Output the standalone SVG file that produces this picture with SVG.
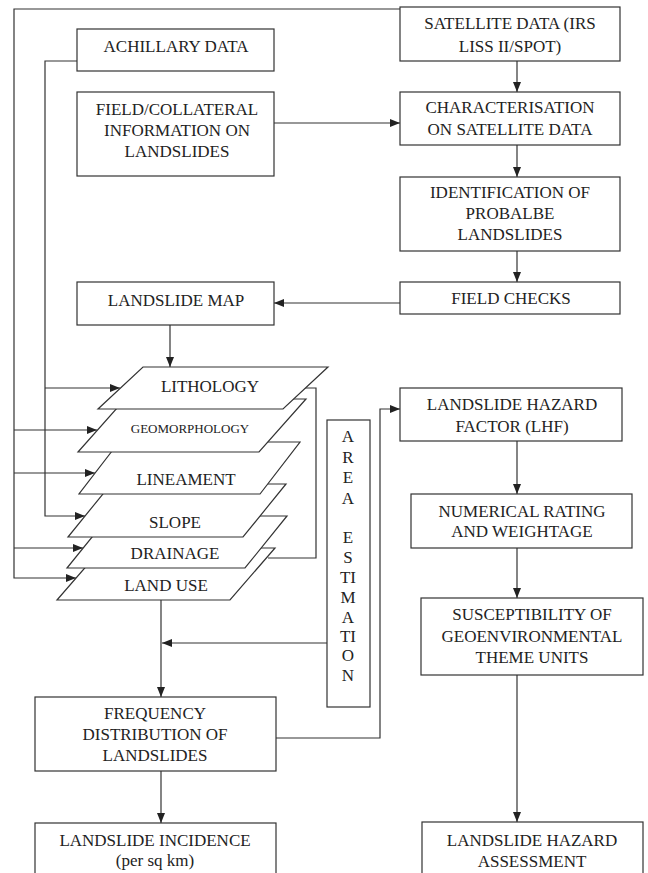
<svg xmlns="http://www.w3.org/2000/svg" width="648" height="873" viewBox="0 0 648 873">
<style>
.box{fill:#fff;stroke:#333;stroke-width:1.2}
.lay{fill:#fff;stroke:#333;stroke-width:1.2;stroke-linejoin:miter}
.ln{fill:none;stroke:#333;stroke-width:1.2}
.ar{marker-end:url(#ah)}
text{font-family:"Liberation Serif","Times New Roman",serif;font-size:17px;fill:#222;text-anchor:middle}
.sm{font-size:13px}
</style>
<defs>
<marker id="ah" viewBox="0 0 10 8" refX="10" refY="4" markerWidth="10" markerHeight="8" markerUnits="userSpaceOnUse" orient="auto"><path d="M0,0 L10,4 L0,8 z" fill="#222"/></marker>
</defs>
<rect width="648" height="873" fill="#fff"/>

<g id="connectors">
<path class="ln" d="M400,9 H14 V578 H76" marker-end="url(#ah)"/>
<path class="ln ar" d="M14,430 H97"/>
<path class="ln ar" d="M14,473 H95"/>
<path class="ln ar" d="M14,548 H83"/>
<path class="ln ar" d="M77,61 H45 V516 H85"/>
<path class="ln ar" d="M45,388 H120"/>
<path class="ln ar" d="M517,61 V92"/>
<path class="ln ar" d="M517,145 V177"/>
<path class="ln ar" d="M517,251 V282"/>
<path class="ln ar" d="M400,303 H274"/>
<path class="ln ar" d="M274,123 H400"/>
<path class="ln ar" d="M170,325 V367"/>
<path class="ln" d="M305,388 H316 V558 H268"/>
<path class="ln ar" d="M161,600 V697"/>
<path class="ln ar" d="M327,643 H162"/>
<path class="ln ar" d="M161,771 V823"/>
<path class="ln ar" d="M276,738 H380 V409 H400"/>
<path class="ln ar" d="M517,441 V494"/>
<path class="ln ar" d="M517,548 V598"/>
<path class="ln ar" d="M517,675 V822"/>
</g>

<g id="landuse"><polygon class="lay" points="102,548 275,548 230,600 57,600"/><text x="166" y="591">LAND USE</text></g>
<g id="drainage"><polygon class="lay" points="109,516 287,516 245,568 67,568"/><text x="175" y="559">DRAINAGE</text></g>
<g id="slope"><polygon class="lay" points="111,484 286,484 243,537 68,537"/><text x="175" y="528">SLOPE</text></g>
<g id="lineament"><polygon class="lay" points="119,442 300,442 260,494 79,494"/><text x="186" y="485">LINEAMENT</text></g>
<g id="geomorphology"><polygon class="lay" points="125,399 306,399 259,452 78,452"/><text class="sm" x="190" y="433">GEOMORPHOLOGY</text></g>
<g id="lithology"><polygon class="lay" points="143,367 328,367 283,409 98,409"/><text x="210" y="392">LITHOLOGY</text></g>

<g id="achillary"><rect class="box" x="77" y="29" width="197" height="42"/><text x="176" y="52">ACHILLARY DATA</text></g>
<g id="field-collateral"><rect class="box" x="77" y="92" width="197" height="84"/><text x="177" y="115">FIELD/COLLATERAL</text><text x="177" y="136">INFORMATION ON</text><text x="177" y="157">LANDSLIDES</text></g>
<g id="satellite"><rect class="box" x="400" y="7" width="220" height="54"/><text x="510" y="29">SATELLITE DATA (IRS</text><text x="510" y="52">LISS II/SPOT)</text></g>
<g id="characterisation"><rect class="box" x="400" y="92" width="220" height="53"/><text x="510" y="113">CHARACTERISATION</text><text x="510" y="135">ON SATELLITE DATA</text></g>
<g id="identification"><rect class="box" x="400" y="177" width="220" height="74"/><text x="510" y="198">IDENTIFICATION OF</text><text x="510" y="219">PROBALBE</text><text x="510" y="240">LANDSLIDES</text></g>
<g id="field-checks"><rect class="box" x="400" y="282" width="220" height="32"/><text x="511" y="304">FIELD CHECKS</text></g>
<g id="landslide-map"><rect class="box" x="77" y="282" width="197" height="43"/><text x="176" y="306">LANDSLIDE MAP</text></g>
<g id="lhf"><rect class="box" x="400" y="388" width="222" height="53"/><text x="512" y="410">LANDSLIDE HAZARD</text><text x="512" y="432">FACTOR (LHF)</text></g>
<g id="numerical"><rect class="box" x="411" y="494" width="221" height="54"/><text x="522" y="517">NUMERICAL RATING</text><text x="522" y="537">AND WEIGHTAGE</text></g>
<g id="susceptibility"><rect class="box" x="421" y="598" width="222" height="77"/><text x="532" y="620">SUSCEPTIBILITY OF</text><text x="532" y="642">GEOENVIRONMENTAL</text><text x="532" y="663">THEME UNITS</text></g>
<g id="hazard-assessment"><rect class="box" x="422" y="822" width="221" height="60"/><text x="532" y="846">LANDSLIDE HAZARD</text><text x="532" y="867">ASSESSMENT</text></g>
<g id="frequency"><rect class="box" x="35" y="697" width="241" height="74"/><text x="155" y="719">FREQUENCY</text><text x="155" y="740">DISTRIBUTION OF</text><text x="155" y="761">LANDSLIDES</text></g>
<g id="incidence"><rect class="box" x="35" y="823" width="241" height="60"/><text x="155" y="846">LANDSLIDE INCIDENCE</text><text x="155" y="866">(per sq km)</text></g>
<g id="area-estimation"><rect class="box" x="327" y="420" width="43" height="287"/>
<text x="348" y="442">A</text><text x="348" y="463">R</text><text x="348" y="483">E</text><text x="348" y="504">A</text>
<text x="348" y="543">E</text><text x="348" y="563">S</text><text x="348" y="583">TI</text><text x="348" y="603">M</text><text x="348" y="623">A</text><text x="348" y="642">TI</text><text x="348" y="661">O</text><text x="348" y="681">N</text>
</g>
</svg>
